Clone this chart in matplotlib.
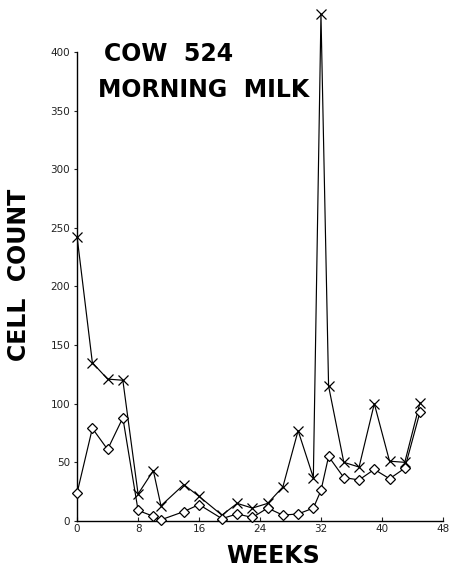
import matplotlib
matplotlib.use("Agg")
import matplotlib.pyplot as plt

weeks = [0, 2, 4, 6, 8, 10, 11, 14, 16, 19, 21, 23, 25, 27, 29, 31, 32, 33, 35, 37, 39, 41, 43, 45]
cross_counts = [242, 135, 121, 120, 23, 43, 13, 31, 21, 5, 15, 11, 15, 29, 77, 37, 432, 115, 50, 46, 100, 51, 50, 101]
diamond_counts = [24, 79, 61, 88, 9, 4, 1, 8, 14, 2, 6, 3, 11, 5, 6, 11, 26, 55, 37, 35, 44, 36, 45, 93]

x_ticks = [0, 8, 16, 24, 32, 40, 48]
y_ticks = [0, 50, 100, 150, 200, 250, 300, 350, 400]

fig = plt.figure(figsize=(4.51, 5.71), dpi=100)
ax = fig.add_axes([0.171, 0.0876, 0.811, 0.9037])

ax.plot(weeks, cross_counts, color="black", lw=0.85, marker="x", ms=7, mew=0.9,
        clip_on=False, zorder=3)
ax.plot(weeks, diamond_counts, color="black", lw=0.85, marker="D", ms=5, mew=0.9,
        mfc="white", clip_on=False, zorder=4)

ax.set_xlim(0, 48)
ax.set_ylim(0, 440)
ax.spines["top"].set_visible(False)
ax.spines["right"].set_visible(False)
ax.spines["left"].set_bounds(0, 400)
ax.spines["left"].set_linewidth(1.0)
ax.spines["bottom"].set_linewidth(1.0)

ax.set_xticks(x_ticks)
ax.set_yticks(y_ticks)
ax.tick_params(axis="x", direction="in", length=3, labelsize=7.5, pad=2, colors="#222222")
ax.tick_params(axis="y", direction="out", length=2, labelsize=7.5, pad=3, colors="#222222")

fig.text(0.23, 0.905, "COW  524", fontsize=17, fontweight="bold", ha="left", va="center")
fig.text(0.217, 0.842, "MORNING  MILK", fontsize=17, fontweight="bold", ha="left", va="center")
fig.text(0.042, 0.518, "CELL  COUNT", fontsize=17, fontweight="bold", rotation=90,
         ha="center", va="center")
fig.text(0.605, 0.026, "WEEKS", fontsize=17, fontweight="bold", ha="center", va="center")

fig.savefig("out.png", dpi=100, facecolor="white")
